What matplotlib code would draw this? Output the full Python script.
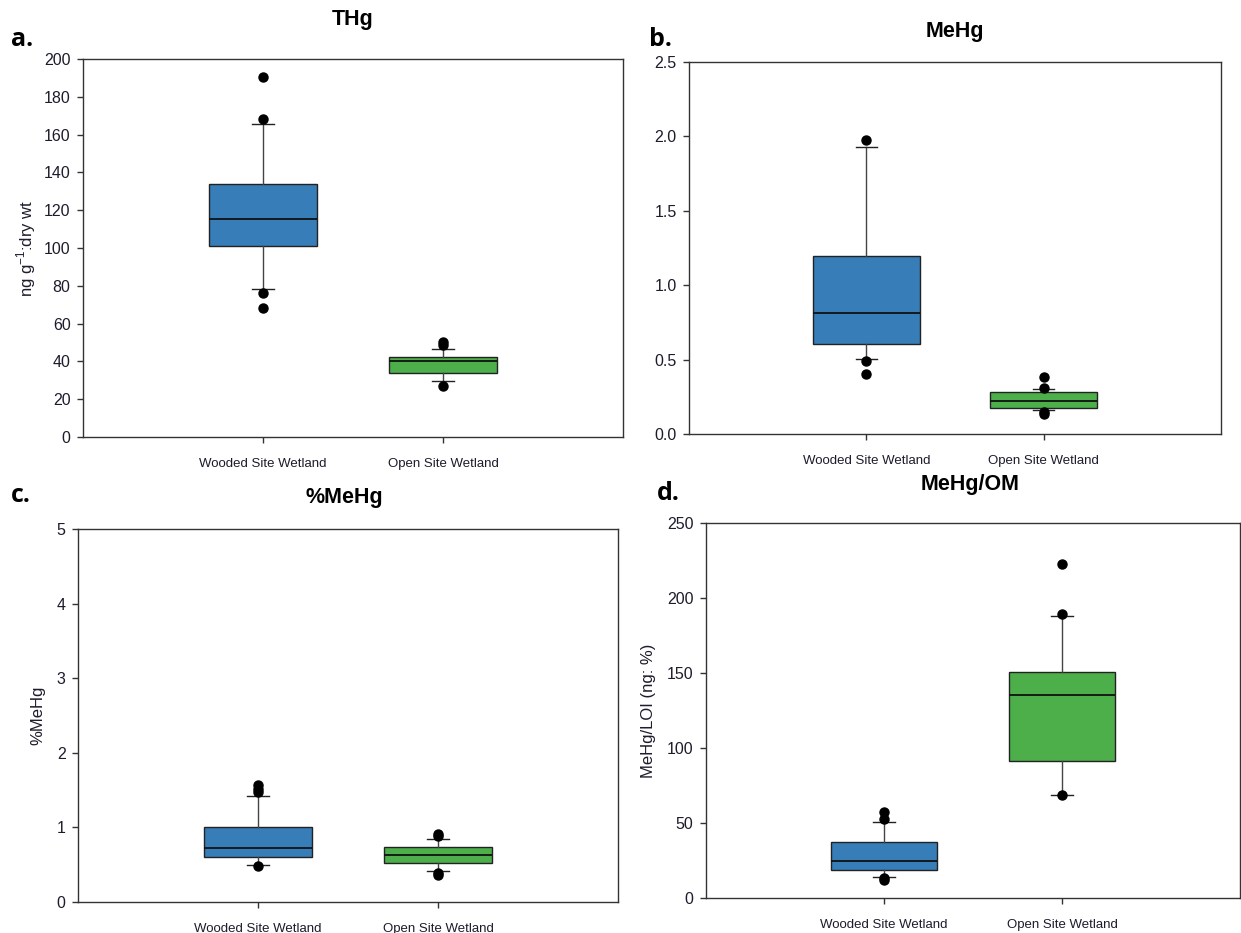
import numpy as np
import matplotlib
matplotlib.use('Agg')
import matplotlib.pyplot as plt

# site categories (x axis)
categories = ['Wooded Site Wetland', 'Open Site Wetland']

# a. THg (ng g-1 dry wt)
thg_q1 = [101.0, 34.1]
thg_med = [115.1, 40.0]
thg_q3 = [134.0, 42.4]
thg_whislo = [78.2, 29.7]
thg_whishi = [165.5, 46.8]
thg_fliers = [[190.7, 168.0, 76.0, 68.0], [50.3, 48.5, 27.1]]

# b. MeHg
mehg_q1 = [0.606, 0.177]
mehg_med = [0.812, 0.224]
mehg_q3 = [1.198, 0.285]
mehg_whislo = [0.503, 0.162]
mehg_whishi = [1.928, 0.300]
mehg_fliers = [[1.973, 0.489, 0.406], [0.386, 0.307, 0.146, 0.135]]

# c. %MeHg
pct_q1 = [0.604, 0.528]
pct_med = [0.725, 0.636]
pct_q3 = [1.007, 0.743]
pct_whislo = [0.497, 0.420]
pct_whishi = [1.423, 0.850]
pct_fliers = [[1.567, 1.520, 1.477, 0.479], [0.909, 0.886, 0.394, 0.358]]

# d. MeHg/OM
om_q1 = [18.9, 91.1]
om_med = [24.4, 135.6]
om_q3 = [37.3, 150.7]
om_whislo = [14.2, 68.9]
om_whishi = [50.4, 187.8]
om_fliers = [[57.3, 52.9, 13.6, 11.8], [222.7, 189.6, 68.4]]

BOX_COLORS = ['#377EB8', '#4DAF4A']
SANS = ['Liberation Sans', 'DejaVu Sans']
TEXT_COLOR = '#1c1c2c'

W, H = 1241, 933


def px_rect(x0, y0, x1, y1):
    # pixel box -> figure fraction rect
    return [x0 / W, 1 - y1 / H, (x1 - x0) / W, (y1 - y0) / H]


def draw_panel(ax, q1, med, q3, lo, hi, fliers, yticks, fmt):
    stats = []
    for i in range(len(categories)):
        stats.append({'label': categories[i], 'q1': q1[i], 'med': med[i], 'q3': q3[i],
                      'whislo': lo[i], 'whishi': hi[i], 'fliers': fliers[i]})
    bp = ax.bxp(stats, positions=[1, 2], widths=0.6, capwidths=0.12, patch_artist=True,
                boxprops=dict(edgecolor='#222222', linewidth=1.0),
                medianprops=dict(color='#111111', linewidth=1.3),
                whiskerprops=dict(color='#444444', linewidth=1.0),
                capprops=dict(color='#222222', linewidth=1.0),
                flierprops=dict(marker='o', markerfacecolor='black', markeredgecolor='black',
                                markersize=6.5, linestyle='none'))
    for patch, c in zip(bp['boxes'], BOX_COLORS):
        patch.set_facecolor(c)
    ax.set_xlim(0, 3)
    ax.set_ylim(yticks[0], yticks[-1])
    ax.set_yticks(yticks)
    ax.set_yticklabels([fmt.format(v) for v in yticks], family=SANS, fontsize=11.5,
                       color=TEXT_COLOR)
    ax.set_xticks([1, 2])
    ax.set_xticklabels(categories, family=SANS, fontsize=9.5, color=TEXT_COLOR)
    ax.tick_params(axis='y', direction='out', length=4, width=1, color='#333333', pad=5,
                   right=False)
    ax.tick_params(axis='x', direction='out', length=4, width=1, color='#333333', pad=11,
                   top=False)
    for s in ax.spines.values():
        s.set_color('#333333')
        s.set_linewidth(1.0)


fig = plt.figure(figsize=(W / 100, H / 100), dpi=100)

ax_a = fig.add_axes(px_rect(83, 59, 623, 437))
draw_panel(ax_a, thg_q1, thg_med, thg_q3, thg_whislo, thg_whishi, thg_fliers,
           np.arange(0, 201, 20), '{:.0f}')
ax_a.set_ylabel(r'ng g$^{\mathregular{-1}}$:dry wt', fontsize=12, family='Liberation Sans',
                color=TEXT_COLOR, labelpad=4)

ax_b = fig.add_axes(px_rect(689, 62, 1221, 434))
draw_panel(ax_b, mehg_q1, mehg_med, mehg_q3, mehg_whislo, mehg_whishi, mehg_fliers,
           np.arange(0, 2.51, 0.5), '{:.1f}')

ax_c = fig.add_axes(px_rect(78, 529, 618, 902))
draw_panel(ax_c, pct_q1, pct_med, pct_q3, pct_whislo, pct_whishi, pct_fliers,
           np.arange(0, 6, 1), '{:.0f}')
ax_c.set_ylabel('%MeHg', fontsize=12, family='Liberation Sans', color=TEXT_COLOR, labelpad=8)

ax_d = fig.add_axes(px_rect(706, 523, 1240, 898))
draw_panel(ax_d, om_q1, om_med, om_q3, om_whislo, om_whishi, om_fliers,
           np.arange(0, 251, 50), '{:.0f}')
ax_d.set_ylabel('MeHg/LOI (ng: %)', fontsize=12, family='Liberation Sans', color=TEXT_COLOR,
                labelpad=8)

# panel titles and letters
title_kw = dict(fontsize=15.5, fontweight='bold', family='Liberation Sans', ha='center',
                va='center')
fig.text(353 / W, 1 - 20 / H, 'THg', **title_kw)
fig.text(955 / W, 1 - 32 / H, 'MeHg', **title_kw)
fig.text(344 / W, 1 - 498 / H, '%MeHg', **title_kw)
fig.text(970 / W, 1 - 485 / H, 'MeHg/OM', **title_kw)

letter_kw = dict(fontsize=18, fontweight='bold', family='Open Sans', ha='left', va='center')
fig.text(11 / W, 1 - 40 / H, 'a.', **letter_kw)
fig.text(649 / W, 1 - 40 / H, 'b.', **letter_kw)
fig.text(11 / W, 1 - 496 / H, 'c.', **letter_kw)
fig.text(657 / W, 1 - 494 / H, 'd.', **letter_kw)

fig.savefig('out.png', dpi=100)
